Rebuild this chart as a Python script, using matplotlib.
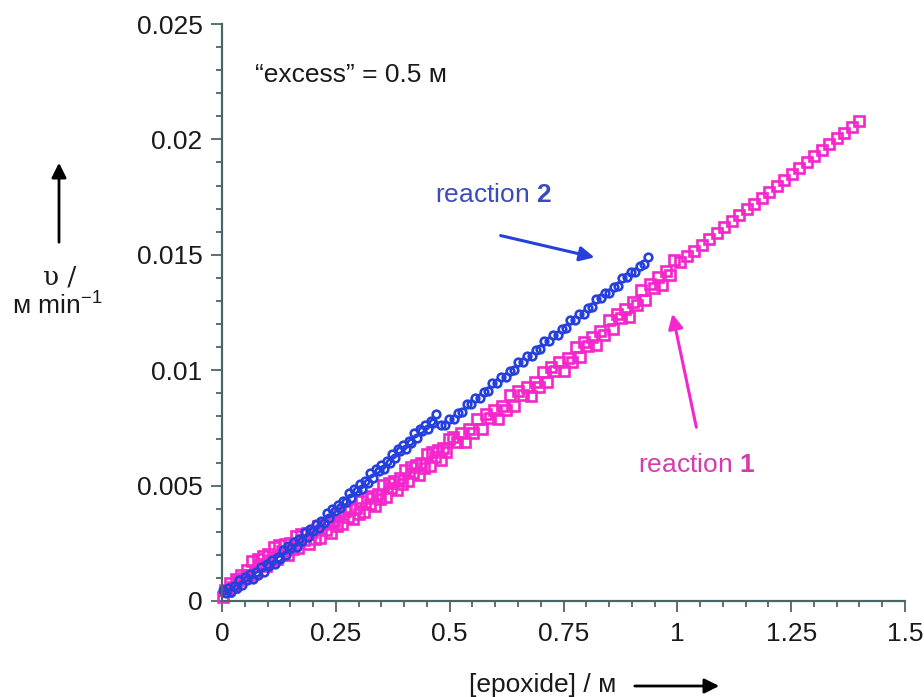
import matplotlib
matplotlib.use("Agg")
import matplotlib.pyplot as plt
from matplotlib.patches import FancyArrowPatch
from matplotlib.ticker import MultipleLocator, FixedLocator, FixedFormatter

plt.rcParams['font.family'] = ['Liberation Sans', 'DejaVu Sans']
plt.rcParams['mathtext.fontset'] = 'custom'
plt.rcParams['mathtext.rm'] = 'Liberation Sans'
plt.rcParams['mathtext.bf'] = 'Liberation Sans:bold'

# reaction 1 (magenta squares): [epoxide] / M  vs  rate / M min-1
epox_1 = [1.400, 1.384, 1.367, 1.351, 1.334, 1.318, 1.301, 1.285, 1.268, 1.252,
          1.235, 1.219, 1.202, 1.186, 1.169, 1.153, 1.136, 1.120, 1.103, 1.087,
          1.070, 1.054, 1.037, 1.021, 1.005,
          0.993, 0.984, 0.975, 0.966, 0.957, 0.948, 0.939, 0.930, 0.921, 0.912,
          0.903, 0.894, 0.885, 0.876, 0.867, 0.858, 0.849, 0.840, 0.831, 0.822,
          0.813, 0.804, 0.795, 0.786, 0.777, 0.768, 0.759, 0.750, 0.741, 0.732,
          0.723, 0.714, 0.705, 0.696, 0.687, 0.678, 0.669, 0.660, 0.651, 0.642,
          0.633, 0.624, 0.615, 0.606, 0.597, 0.588, 0.579, 0.570, 0.561, 0.552,
          0.543, 0.534, 0.525, 0.516, 0.507,
          0.498, 0.492, 0.486, 0.480, 0.474, 0.468, 0.462, 0.456, 0.450, 0.444,
          0.438, 0.432, 0.426, 0.420, 0.414, 0.408, 0.402, 0.396, 0.390, 0.384,
          0.378, 0.372, 0.366, 0.360, 0.354, 0.348, 0.342, 0.336, 0.330, 0.324,
          0.318, 0.312, 0.306, 0.300, 0.294, 0.288, 0.282, 0.276, 0.270, 0.264,
          0.258, 0.252, 0.246, 0.240, 0.234, 0.228, 0.222, 0.216, 0.210, 0.204,
          0.198, 0.192, 0.186, 0.180, 0.174, 0.168, 0.162, 0.156, 0.150, 0.144,
          0.138, 0.132, 0.126, 0.120, 0.114, 0.108, 0.102, 0.096, 0.090, 0.084,
          0.078, 0.072, 0.066, 0.060, 0.054, 0.048, 0.042, 0.036, 0.030, 0.024,
          0.018, 0.012, 0.006, 0.002]
rate_1 = [0.02080, 0.02055, 0.02029, 0.02004, 0.01978, 0.01953, 0.01927, 0.01902, 0.01875, 0.01851,
          0.01824, 0.01799, 0.01773, 0.01748, 0.01722, 0.01697, 0.01671, 0.01646, 0.01620, 0.01595,
          0.01569, 0.01544, 0.01517, 0.01493, 0.01468,
          0.01478, 0.01413, 0.01428, 0.01368, 0.01404, 0.01357, 0.01373, 0.01306, 0.01348, 0.01282,
          0.01297, 0.01231, 0.01267, 0.01227, 0.01244, 0.01177, 0.01218, 0.01153, 0.01168, 0.01108,
          0.01144, 0.01105, 0.01123, 0.01057, 0.01101, 0.01037, 0.01054, 0.00996, 0.01034, 0.00996,
          0.01015, 0.00949, 0.00993, 0.00929, 0.00947, 0.00890, 0.00929, 0.00892, 0.00911, 0.00847,
          0.00891, 0.00829, 0.00846, 0.00789, 0.00828, 0.00791, 0.00811, 0.00746, 0.00790, 0.00728,
          0.00745, 0.00689, 0.00727, 0.00690, 0.00710,
          0.00702, 0.00644, 0.00665, 0.00613, 0.00656, 0.00623, 0.00647, 0.00586, 0.00635, 0.00577,
          0.00598, 0.00546, 0.00588, 0.00556, 0.00580, 0.00519, 0.00568, 0.00509, 0.00531, 0.00479,
          0.00521, 0.00489, 0.00512, 0.00452, 0.00501, 0.00442, 0.00464, 0.00411, 0.00454, 0.00422,
          0.00445, 0.00385, 0.00433, 0.00375, 0.00405, 0.00354, 0.00397, 0.00366, 0.00391, 0.00332,
          0.00382, 0.00324, 0.00347, 0.00296, 0.00340, 0.00309, 0.00333, 0.00274, 0.00324, 0.00267,
          0.00298, 0.00248, 0.00293, 0.00263, 0.00289, 0.00231, 0.00282, 0.00226, 0.00250, 0.00200,
          0.00245, 0.00215, 0.00241, 0.00183, 0.00234, 0.00178, 0.00202, 0.00150, 0.00193, 0.00161,
          0.00184, 0.00124, 0.00172, 0.00114, 0.00136, 0.00099, 0.00114, 0.00091, 0.00096, 0.00059,
          0.00077, 0.00042, 0.00046, 0.00017]

# reaction 2 (blue circles)
epox_2 = [0.936, 0.927, 0.917, 0.908, 0.898, 0.889, 0.879, 0.870, 0.860, 0.851,
          0.841, 0.832, 0.822, 0.813, 0.803, 0.794, 0.784, 0.775, 0.765, 0.756,
          0.746, 0.737, 0.727, 0.718, 0.708, 0.699, 0.689, 0.680, 0.670, 0.661,
          0.651, 0.642, 0.632, 0.623, 0.613, 0.604, 0.594, 0.585, 0.575, 0.566,
          0.556, 0.547, 0.537, 0.528, 0.518, 0.509, 0.499, 0.490, 0.481,
          0.470, 0.464, 0.458, 0.452, 0.446, 0.440, 0.434, 0.428, 0.422, 0.416,
          0.410, 0.404, 0.398, 0.392, 0.386, 0.380, 0.374, 0.368, 0.362, 0.356,
          0.350, 0.344, 0.338, 0.332, 0.326, 0.320, 0.314, 0.308, 0.302, 0.296,
          0.290, 0.284, 0.278, 0.272, 0.266, 0.260, 0.254, 0.248, 0.242, 0.236,
          0.230, 0.224, 0.218, 0.212, 0.206, 0.200, 0.194, 0.188, 0.182, 0.176,
          0.170, 0.164, 0.158, 0.152, 0.146, 0.140, 0.134, 0.128, 0.122, 0.116,
          0.110, 0.104, 0.098, 0.092, 0.086, 0.080, 0.074, 0.068, 0.062, 0.056,
          0.050, 0.044, 0.038, 0.032, 0.026, 0.020, 0.014, 0.008, 0.002]
rate_2 = [0.01490, 0.01458, 0.01453, 0.01425, 0.01425, 0.01402, 0.01399, 0.01366, 0.01361, 0.01334,
          0.01334, 0.01311, 0.01308, 0.01275, 0.01270, 0.01243, 0.01243, 0.01219, 0.01216, 0.01184,
          0.01179, 0.01152, 0.01152, 0.01128, 0.01125, 0.01093, 0.01088, 0.01060, 0.01060, 0.01037,
          0.01034, 0.01002, 0.00997, 0.00969, 0.00969, 0.00946, 0.00943, 0.00910, 0.00905, 0.00878,
          0.00878, 0.00855, 0.00852, 0.00819, 0.00814, 0.00787, 0.00787, 0.00763, 0.00762,
          0.00812, 0.00772, 0.00780, 0.00747, 0.00764, 0.00737, 0.00745, 0.00706, 0.00726, 0.00686,
          0.00694, 0.00660, 0.00677, 0.00651, 0.00659, 0.00620, 0.00639, 0.00599, 0.00608, 0.00574,
          0.00591, 0.00564, 0.00572, 0.00534, 0.00553, 0.00513, 0.00521, 0.00487, 0.00505, 0.00478,
          0.00486, 0.00447, 0.00466, 0.00427, 0.00435, 0.00401, 0.00418, 0.00391, 0.00400, 0.00361,
          0.00380, 0.00340, 0.00348, 0.00315, 0.00332, 0.00305, 0.00314, 0.00277, 0.00297, 0.00259,
          0.00268, 0.00235, 0.00254, 0.00228, 0.00238, 0.00200, 0.00220, 0.00182, 0.00191, 0.00159,
          0.00177, 0.00151, 0.00162, 0.00126, 0.00149, 0.00113, 0.00125, 0.00095, 0.00115, 0.00092,
          0.00104, 0.00069, 0.00092, 0.00055, 0.00067, 0.00037, 0.00058, 0.00035, 0.00046]

x_ticks = [0, 0.25, 0.5, 0.75, 1, 1.25, 1.5]
x_labels = ['0', '0.25', '0.5', '0.75', '1', '1.25', '1.5']
y_ticks = [0, 0.005, 0.01, 0.015, 0.02, 0.025]
y_labels = ['0', '0.005', '0.01', '0.015', '0.02', '0.025']

MAG = '#f526cc'
MAG_TXT = '#d43cad'
BLU = '#2540dc'
BLU_TXT = '#3a4bbd'
AXC = '#4a6767'
TXT = '#1a1a1a'
FS = 19
W, H = 924, 697

fig = plt.figure(figsize=(W / 100, H / 100), dpi=100)
ax = fig.add_axes([222 / W, 96 / H, 683 / W, 577 / H])

ax.plot(epox_1, rate_1, ls='none', marker='s', ms=7, mfc='none', mec=MAG, mew=1.9, clip_on=False)
ax.plot(epox_2, rate_2, ls='none', marker='o', ms=5.5, mfc='none', mec=BLU, mew=1.9, clip_on=False)

ax.set_xlim(0, 1.5)
ax.set_ylim(0, 0.025)
ax.xaxis.set_major_locator(FixedLocator(x_ticks))
ax.xaxis.set_major_formatter(FixedFormatter(x_labels))
ax.yaxis.set_major_locator(FixedLocator(y_ticks))
ax.yaxis.set_major_formatter(FixedFormatter(y_labels))
ax.xaxis.set_minor_locator(MultipleLocator(0.05))
ax.yaxis.set_minor_locator(MultipleLocator(0.001))

for side in ['top', 'right']:
    ax.spines[side].set_visible(False)
for side in ['left', 'bottom']:
    ax.spines[side].set_color(AXC)
    ax.spines[side].set_linewidth(1.6)
ax.tick_params(which='major', direction='out', length=8, width=1.3, color=AXC,
               labelsize=FS, labelcolor=TXT)
ax.tick_params(which='minor', direction='out', length=4.5, width=1.3, color=AXC)
ax.tick_params(axis='x', which='major', pad=7)
ax.tick_params(axis='y', which='major', pad=6)

# annotations
ax.text(0.0725, 0.0228, '\u201cexcess\u201d = 0.5 \u043c', fontsize=FS, va='center', ha='left', color=TXT)
ax.text(0.597, 0.0176, r'reaction $\mathbf{2}$', fontsize=FS, va='center', ha='center', color=BLU_TXT)
ax.text(1.043, 0.0059, r'reaction $\mathbf{1}$', fontsize=FS, va='center', ha='center', color=MAG_TXT)
ax.annotate('', xy=(0.824, 0.01486), xytext=(0.606, 0.01586),
            arrowprops=dict(arrowstyle='-|>', color=BLU, lw=2.2, mutation_scale=22))
ax.annotate('', xy=(0.988, 0.01256), xytext=(1.043, 0.00741),
            arrowprops=dict(arrowstyle='-|>', color=MAG, lw=2.2, mutation_scale=22))


# axis labels with arrows, placed in figure pixels
def fxy(px, py):
    return (px / W, 1 - py / H)


fig.text(*fxy(60, 277), '\u03c5 /', fontsize=FS, ha='center', va='center',
         family=['DejaVu Serif'], color=TXT)
fig.text(*fxy(57, 305), '\u043c min$^{-1}$', fontsize=FS, ha='center', va='center', color=TXT)
fig.add_artist(FancyArrowPatch(fxy(59, 245), fxy(59, 160), transform=fig.transFigure,
                               arrowstyle='-|>', color='black', lw=2, mutation_scale=22))
fig.text(*fxy(543, 685), '[epoxide] / \u043c', fontsize=FS, ha='center', va='center', color=TXT)
fig.add_artist(FancyArrowPatch(fxy(632, 686), fxy(722, 686), transform=fig.transFigure,
                               arrowstyle='-|>', color='black', lw=2, mutation_scale=22))

plt.savefig('out.png', dpi=100)
